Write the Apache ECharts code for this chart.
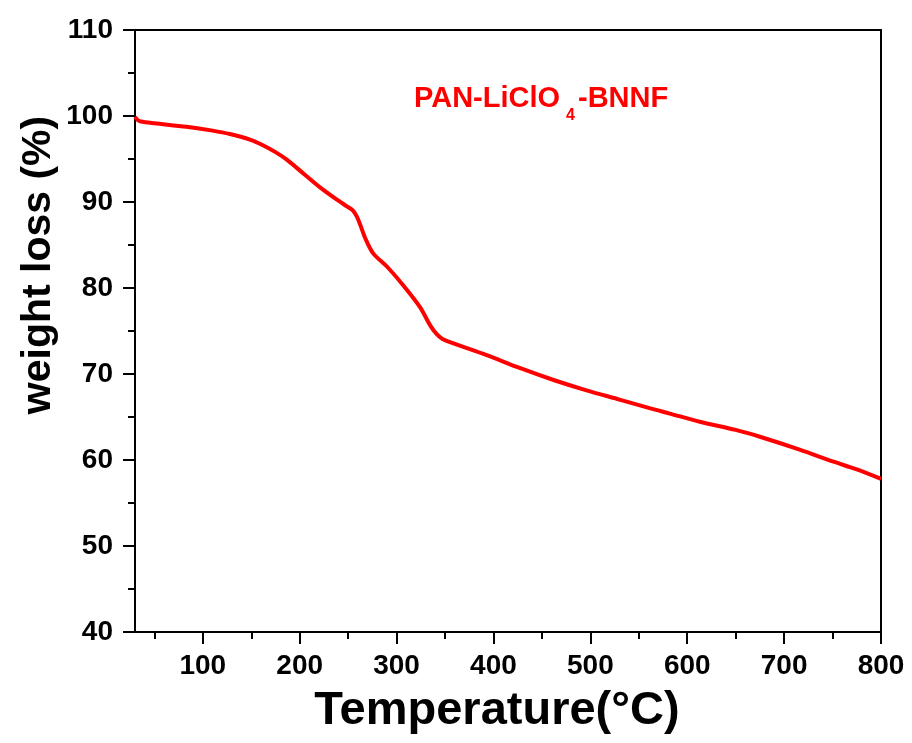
<!DOCTYPE html>
<html>
<head>
<meta charset="utf-8">
<script src="https://cdn.jsdelivr.net/npm/echarts@6/dist/echarts.min.js"></script>
<style>
	html, body { margin: 0; padding: 0; background: #fff; }
	#chart { width: 912px; height: 743px; }
</style>
</head>
<body>
<div id="chart"></div>
<script>
	// TGA curve
	var temperature = [30, 33, 36, 50, 83, 110, 128, 150, 162, 175, 187, 205, 221, 238, 250, 255, 259, 262, 268, 276,
		290, 307, 324, 335, 341, 347, 358, 393, 427, 462, 496, 531, 562, 582, 613, 650, 675, 716, 751, 775, 800];
	var weightLoss = [99.9, 99.5, 99.35, 99.15, 98.75, 98.3, 97.9, 97.2, 96.6, 95.8, 94.9, 93.2, 91.7, 90.3, 89.4, 89.0, 88.3, 87.5, 85.7, 84.0,
		82.5, 80.3, 77.8, 75.6, 74.7, 74.1, 73.6, 72.2, 70.7, 69.3, 68.1, 67.0, 66.0, 65.4, 64.45, 63.5, 62.7, 61.2, 59.8, 58.9, 57.8];

	var xMajorTicks = [100, 200, 300, 400, 500, 600, 700, 800];
	var xMinorTicks = [50, 150, 250, 350, 450, 550, 650, 750];

	var seriesName = "PAN-LiClO4-BNNF";

	var FONT = "'Liberation Sans', Arial, sans-serif";

	var points = [];
	for(var i=0; i<temperature.length; i++)
		points.push([temperature[i], weightLoss[i]]);

	var chart = echarts.init(document.getElementById("chart"), null, { renderer: "canvas" });

	var axisLineStyle = { color: "#000", width: 2 };

	var option =
	{
		backgroundColor: "#fff",
		animation: false,
		grid:
		{
			left: 135, right: 31, top: 30, bottom: 111,
			show: true, borderColor: "#000", borderWidth: 2, backgroundColor: "transparent"
		},
		xAxis:
		[
			{
				type: "value", min: 30, max: 800,
				name: "Temperature(\u00B0C)",
				nameLocation: "middle",
				nameGap: 56,
				nameTextStyle: { fontFamily: FONT, fontWeight: "bold", fontSize: 47, color: "#000", padding: [0, 22, 0, 0] },
				axisLine: { show: true, lineStyle: axisLineStyle },
				axisTick: { show: true, inside: false, length: 12, customValues: xMajorTicks, lineStyle: axisLineStyle },
				axisLabel: { customValues: xMajorTicks, margin: 20, fontFamily: FONT, fontWeight: "bold", fontSize: 28, color: "#000" },
				splitLine: { show: false }
			},
			{
				type: "value", min: 30, max: 800, position: "bottom",
				axisLine: { show: false },
				axisTick: { show: true, inside: false, length: 7, customValues: xMinorTicks, lineStyle: axisLineStyle },
				axisLabel: { show: false },
				splitLine: { show: false }
			}
		],
		yAxis:
		{
			type: "value", min: 40, max: 110, interval: 10,
			axisLine: { show: true, lineStyle: axisLineStyle },
			axisTick: { show: true, inside: false, length: 12, lineStyle: axisLineStyle },
			minorTick: { show: true, splitNumber: 2, length: 7, lineStyle: axisLineStyle },
			axisLabel: { margin: 22, fontFamily: FONT, fontWeight: "bold", fontSize: 28, color: "#000" },
			splitLine: { show: false }
		},
		graphic:
		[
			{
				type: "text", x: 39, y: 265, rotation: Math.PI / 2,
				style: { text: "weight loss (%)", font: "bold 41px " + FONT, fill: "#000", align: "center", verticalAlign: "middle" }
			},
			{
				type: "text", x: 414, y: 99,
				style: { text: "PAN-LiClO", font: "bold 29px " + FONT, fill: "#ff0000", align: "left", verticalAlign: "middle" }
			},
			{
				type: "text", x: 566, y: 116,
				style: { text: "4", font: "bold 16px " + FONT, fill: "#ff0000", align: "left", verticalAlign: "middle" }
			},
			{
				type: "text", x: 578, y: 99,
				style: { text: "-BNNF", font: "bold 29px " + FONT, fill: "#ff0000", align: "left", verticalAlign: "middle" }
			}
		],
		series:
		[
			{
				name: seriesName,
				type: "line",
				xAxisIndex: 0,
				data: points,
				showSymbol: false,
				smooth: 0.3,
				lineStyle: { color: "#ff0000", width: 4 },
				itemStyle: { color: "#ff0000" }
			}
		]
	};

	chart.setOption(option);
</script>
</body>
</html>
